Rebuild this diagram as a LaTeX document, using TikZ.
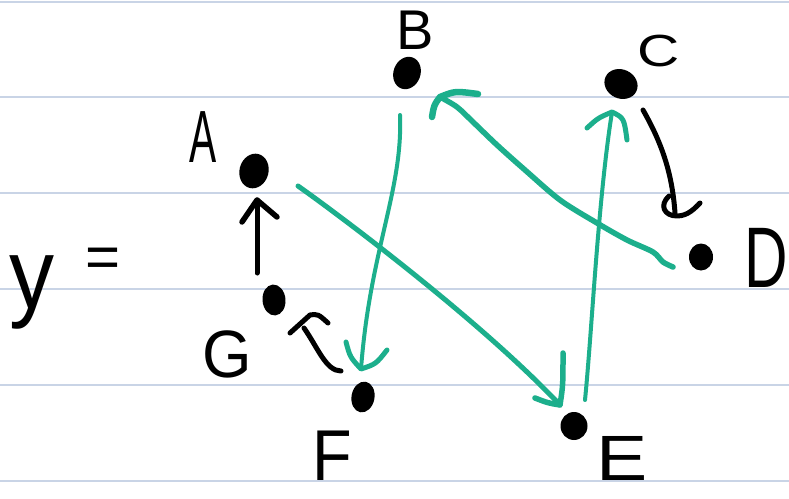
\documentclass[tikz,border=0pt]{standalone}
\usepackage{fontspec}
\usepackage{graphicx}
\setmainfont{Liberation Sans}
\usetikzlibrary{shapes.geometric}
\definecolor{penGreen}{RGB}{28,175,140}
\definecolor{ruleBlue}{RGB}{201,212,230}
\begin{document}
\begin{tikzpicture}[x=1pt,y=-1pt,
  dot/.style={ellipse,fill=black,inner sep=0pt},
  lbl/.style={inner sep=0pt,text=black},
  ink/.style={draw=black,line width=5pt,line cap=round,line join=round},
  grn/.style={draw=penGreen,line width=4.5pt,line cap=round,line join=round},
  ruling/.style={draw=ruleBlue,line width=2pt}]
\useasboundingbox (0,0) rectangle (789,498);
\fill[white] (0,0) rectangle (789,498);
\foreach \yy in {1.5,97,193,289,385,481} \draw[ruling] (0,\yy) -- (789,\yy);

% dots
\node[dot,minimum width=29,minimum height=35,rotate=-15] (dA) at (254,171) {};
\node[dot,minimum width=27,minimum height=33,rotate=-20] (dB) at (407,73) {};
\node[dot,minimum width=34,minimum height=29,rotate=-25] (dC) at (621,84) {};
\node[dot,minimum width=24,minimum height=27] (dD) at (701,257) {};
\node[dot,minimum width=27,minimum height=28] (dE) at (574,426) {};
\node[dot,minimum width=23,minimum height=31,rotate=-10] (dF) at (363,397) {};
\node[dot,minimum width=23,minimum height=31,rotate=5] (dG) at (274,300) {};

% labels
\node[lbl,font=\fontsize{74}{74}\selectfont] (lA) at (203,137) {\scalebox{0.55}[1]{A}};
\node[lbl,font=\fontsize{56}{56}\selectfont] (lB) at (415,30) {\scalebox{1}[1]{B}};
\node[lbl,font=\fontsize{45}{45}\selectfont] (lC) at (659,51) {\scalebox{1.3}[1]{C}};
\node[lbl,font=\fontsize{86}{86}\selectfont] (lD) at (766,258) {\scalebox{0.7}[1]{D}};
\node[lbl,font=\fontsize{64}{64}\selectfont] (lE) at (622,458) {\scalebox{1.2}[1]{E}};
\node[lbl,font=\fontsize{72}{72}\selectfont] (lF) at (332,456) {\scalebox{0.9}[1]{F}};
\node[lbl,font=\fontsize{67}{67}\selectfont] (lG) at (227,354) {\scalebox{0.95}[1]{G}};
\node[lbl,font=\fontsize{100}{100}\selectfont] (ly) at (32,292) {\scalebox{0.9}[1]{y}};
\node[lbl,font=\fontsize{60}{60}\selectfont] (leq) at (103,263) {=};

% arrow end points
\coordinate (gaS) at (257,273); \coordinate (gaT) at (257,200);
\coordinate (fgS) at (341,371); \coordinate (fgE) at (304,328); \coordinate (fgT) at (310,315);
\coordinate (cdS) at (643,110); \coordinate (cdT) at (675,213);
\coordinate (bfS) at (400,115); \coordinate (bfT) at (361,369);
\coordinate (aeS) at (298,186); \coordinate (aeT) at (560,405);
\coordinate (ecS) at (585,400); \coordinate (ecT) at (612,112);
\coordinate (dbS) at (673,267); \coordinate (dbT) at (440,97);

% black arrows
\draw[ink] (gaS) -- (gaT);
\draw[ink,line width=5.5pt] (gaT) ++(-15,22) -- (gaT) -- ++(20,17);

\draw[ink] (fgS) .. controls (326,371) and (318,348) .. (fgE);
\draw[ink] (fgT) ++(-20,18) -- (fgT) .. controls (318,314) .. (328,323);

\draw[ink] (cdS) .. controls (660,140) and (672,170) .. (cdT);
\draw[ink] (669,196) .. controls (659,205) and (664,216) .. (677,216) .. controls (688,216) and (695,208) .. (700,203);

% green arrows
\draw[grn,line width=4pt] (bfS) .. controls (403,190) and (370,250) .. (bfT);
\draw[grn,line width=5pt] (346,342) .. controls (350,357) .. (bfT) .. controls (376,364) .. (387,350);

\draw[grn,line width=5pt] (aeS) .. controls (335,212) and (480,320) .. (aeT);
\draw[grn,line width=5.5pt] (563,353) .. controls (563,385) .. (aeT) .. controls (548,403) .. (535,398);

\draw[grn,line width=4pt] (ecS) .. controls (592,330) and (598,200) .. (ecT);
\draw[grn,line width=5pt] (587,128) .. controls (598,118) .. (ecT) .. controls (624,118) .. (627,140);

\draw[grn,line width=5.5pt] plot[smooth] coordinates {(dbS) (663,262) (653,252) (627,240) (597,223) (560,200) (525,170) (497,145) (473,122) (457,107) (dbT)};
\draw[grn,line width=6.5pt] (432,117) .. controls (434,105) .. (dbT) .. controls (455,91) .. (478,94);
\end{tikzpicture}
\end{document}
